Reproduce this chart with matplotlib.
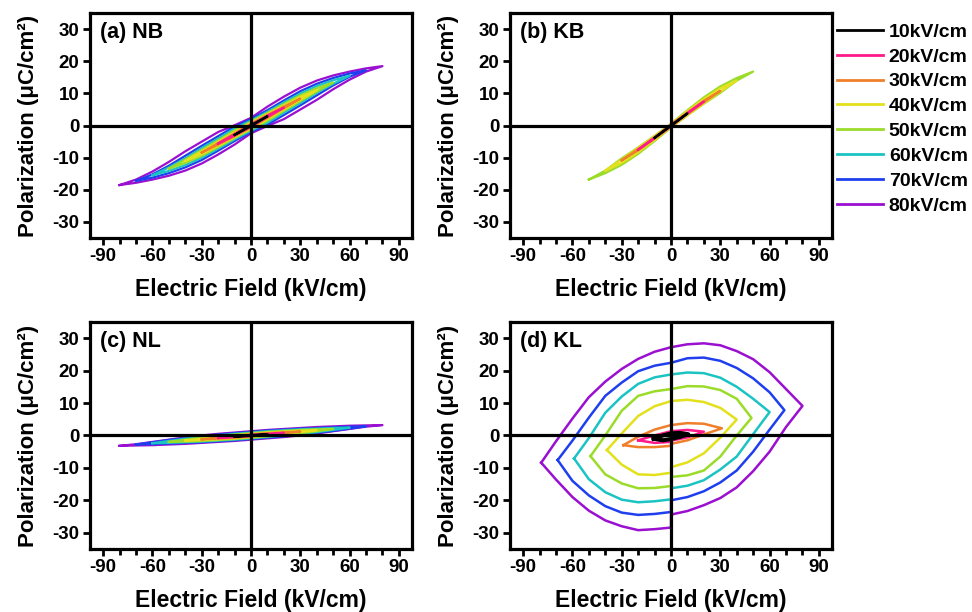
import matplotlib
matplotlib.use('Agg')
import matplotlib.pyplot as plt
from matplotlib.lines import Line2D

plt.rcParams['font.family'] = ['Liberation Sans', 'DejaVu Sans']
plt.rcParams['font.weight'] = 'bold'
plt.rcParams['axes.labelweight'] = 'bold'
plt.rcParams['axes.unicode_minus'] = False

FIELDS = [10, 20, 30, 40, 50, 60, 70, 80]
LABELS = ['10kV/cm', '20kV/cm', '30kV/cm', '40kV/cm', '50kV/cm', '60kV/cm', '70kV/cm', '80kV/cm']
COLORS = ['#000000', '#ff1a8c', '#f07f2a', '#e3e01c', '#9bdc2a', '#1cc3c3', '#1f3fef', '#9a0fd0']

# field grid (kV/cm) for panels a-c, upper branch goes -Emax -> +Emax
E10 = [-10, 0, 10]
E20 = [-20, -10, 0, 10, 20]
E30 = [-30, -20, -10, 0, 10, 20, 30]
E40 = [-40, -30, -20, -10, 0, 10, 20, 30, 40]
E50 = [-50, -40, -30, -20, -10, 0, 10, 20, 30, 40, 50]
E60 = [-60, -50, -40, -30, -20, -10, 0, 10, 20, 30, 40, 50, 60]
E70 = [-70, -60, -50, -40, -30, -20, -10, 0, 10, 20, 30, 40, 50, 60, 70]
E80 = [-80, -70, -60, -50, -40, -30, -20, -10, 0, 10, 20, 30, 40, 50, 60, 70, 80]
GRID = {10: E10, 20: E20, 30: E30, 40: E40, 50: E50, 60: E60, 70: E70, 80: E80}

# (a) NB, polarization on upper branch (E up) and lower branch (E down)
NB_UP = {
    10: [-2.9, 0.15, 2.9],
    20: [-5.6, -2.7, 0.35, 3.1, 5.6],
    30: [-8.4, -5.4, -2.4, 0.6, 3.3, 5.9, 8.4],
    40: [-11.0, -8.0, -5.0, -2.0, 0.9, 3.6, 6.3, 8.9, 11.0],
    50: [-13.4, -10.6, -7.6, -4.6, -1.5, 1.2, 3.9, 6.7, 9.4, 11.6, 13.4],
    60: [-15.5, -13.0, -10.2, -7.0, -4.0, -0.9, 1.6, 4.3, 7.2, 10.0, 12.3, 14.1, 15.5],
    70: [-17.2, -15.2, -12.5, -9.4, -6.3, -3.3, -0.3, 2.0, 4.8, 7.8, 10.7, 13.0, 14.8, 16.2, 17.2],
    80: [-18.5, -16.8, -14.3, -11.3, -8.0, -5.0, -2.0, 0.1, 2.4, 5.9, 9.0, 11.8, 14.0, 15.6, 16.8, 17.8, 18.5],
}
NB_DN = {
    10: [2.9, -0.15, -2.9],
    20: [5.6, 2.7, -0.35, -3.1, -5.6],
    30: [8.4, 5.4, 2.4, -0.6, -3.3, -5.9, -8.4],
    40: [11.0, 8.0, 5.0, 2.0, -0.9, -3.6, -6.3, -8.9, -11.0],
    50: [13.4, 10.6, 7.6, 4.6, 1.5, -1.2, -3.9, -6.7, -9.4, -11.6, -13.4],
    60: [15.5, 13.0, 10.2, 7.0, 4.0, 0.9, -1.6, -4.3, -7.2, -10.0, -12.3, -14.1, -15.5],
    70: [17.2, 15.2, 12.5, 9.4, 6.3, 3.3, 0.3, -2.0, -4.8, -7.8, -10.7, -13.0, -14.8, -16.2, -17.2],
    80: [18.5, 16.8, 14.3, 11.3, 8.0, 5.0, 2.0, -0.1, -2.4, -5.9, -9.0, -11.8, -14.0, -15.6, -16.8, -17.8, -18.5],
}

# (b) KB, only 10-50 kV/cm
KB_UP = {
    10: [-3.8, 0.1, 3.8],
    20: [-7.5, -3.8, 0.2, 3.9, 7.5],
    30: [-10.8, -7.3, -3.6, 0.4, 4.1, 7.7, 10.8],
    40: [-14.0, -10.6, -6.9, -3.3, 0.5, 4.5, 8.3, 11.6, 14.0],
    50: [-16.8, -14.0, -10.2, -6.8, -3.2, 0.6, 4.8, 8.8, 12.2, 14.8, 16.8],
}
KB_DN = {
    10: [3.8, -0.1, -3.8],
    20: [7.5, 3.8, -0.2, -3.9, -7.5],
    30: [10.8, 7.3, 3.6, -0.4, -4.1, -7.7, -10.8],
    40: [14.0, 10.6, 6.9, 3.3, -0.5, -4.5, -8.3, -11.6, -14.0],
    50: [16.8, 14.0, 10.2, 6.8, 3.2, -0.6, -4.8, -8.8, -12.2, -14.8, -16.8],
}

# (c) NL
NL_UP = {
    10: [-0.4, 0.1, 0.4],
    20: [-0.8, -0.3, 0.2, 0.5, 0.8],
    30: [-1.2, -0.7, -0.2, 0.35, 0.7, 1.0, 1.2],
    40: [-1.6, -1.0, -0.5, 0.0, 0.5, 0.9, 1.2, 1.4, 1.6],
    50: [-2.0, -1.3, -0.7, -0.2, 0.3, 0.7, 1.1, 1.4, 1.7, 1.9, 2.0],
    60: [-2.4, -1.7, -1.0, -0.5, 0.0, 0.5, 0.9, 1.3, 1.6, 1.9, 2.1, 2.3, 2.4],
    70: [-2.8, -2.1, -1.4, -0.8, -0.2, 0.3, 0.7, 1.1, 1.5, 1.8, 2.1, 2.3, 2.5, 2.7, 2.8],
    80: [-3.2, -2.7, -2.0, -1.3, -0.6, 0.0, 0.5, 0.9, 1.3, 1.7, 2.0, 2.3, 2.6, 2.8, 3.0, 3.1, 3.2],
}
NL_DN = {
    10: [0.4, -0.1, -0.4],
    20: [0.8, 0.3, -0.2, -0.5, -0.8],
    30: [1.2, 0.7, 0.2, -0.35, -0.7, -1.0, -1.2],
    40: [1.6, 1.0, 0.5, 0.0, -0.5, -0.9, -1.2, -1.4, -1.6],
    50: [2.0, 1.3, 0.7, 0.2, -0.3, -0.7, -1.1, -1.4, -1.7, -1.9, -2.0],
    60: [2.4, 1.7, 1.0, 0.5, 0.0, -0.5, -0.9, -1.3, -1.6, -1.9, -2.1, -2.3, -2.4],
    70: [2.8, 2.1, 1.4, 0.8, 0.2, -0.3, -0.7, -1.1, -1.5, -1.8, -2.1, -2.3, -2.5, -2.7, -2.8],
    80: [3.2, 2.7, 2.0, 1.3, 0.6, 0.0, -0.5, -0.9, -1.3, -1.7, -2.0, -2.3, -2.6, -2.8, -3.0, -3.1, -3.2],
}

# (d) KL, open loops, read point by point (E, P) for each branch
KL_E_UP = {
    10: [-10.5, -5, 0, 5, 10.5],
    20: [-20, -10, 0, 10, 20],
    30: [-29, -20, -10, 0, 10, 20, 31],
    40: [-39, -30, -20, -10, 0, 10, 20, 30, 40],
    50: [-49, -40, -30, -20, -10, 0, 10, 20, 30, 40, 49],
    60: [-59, -50, -40, -30, -20, -10, 0, 10, 20, 30, 40, 50, 60],
    70: [-69, -60, -50, -40, -30, -20, -10, 0, 10, 20, 30, 40, 50, 60, 69],
    80: [-79, -70, -60, -50, -40, -30, -20, -10, 0, 10, 20, 30, 40, 50, 60, 70, 80],
}
KL_P_UP = {
    10: [-1.0, 0.0, 0.6, 0.8, 0.35],
    20: [-1.5, 0.0, 1.3, 1.7, 1.15],
    30: [-3.0, -0.4, 1.8, 3.2, 3.8, 3.6, 2.2],
    40: [-4.5, 0.6, 6.0, 9.0, 10.6, 11.0, 10.3, 8.5, 4.9],
    50: [-6.4, 0.0, 7.6, 12.2, 13.6, 14.3, 15.2, 15.1, 14.0, 11.3, 5.4],
    60: [-7.1, -0.8, 7.0, 12.0, 15.9, 17.9, 18.8, 19.4, 19.2, 17.8, 15.0, 11.3, 7.2],
    70: [-7.6, -1.6, 5.5, 12.2, 16.3, 19.8, 21.5, 22.4, 23.8, 24.0, 23.0, 20.8, 17.6, 13.3, 7.8],
    80: [-8.4, -1.8, 5.2, 11.8, 16.6, 20.5, 23.6, 25.8, 27.2, 28.1, 28.4, 27.8, 26.0, 23.5, 19.5, 14.3, 9.1],
}
KL_E_DN = {
    10: [10.5, 5, 0, -5, -10.5],
    20: [20, 10, 0, 0, -10, -20],
    30: [31, 20, 10, 0, 0, -10, -20, -29],
    40: [40, 30, 20, 10, 0, 0, -10, -20, -30, -39],
    50: [49, 40, 30, 20, 10, 0, 0, -10, -20, -30, -40, -49],
    60: [60, 50, 40, 30, 20, 10, 0, 0, -10, -20, -30, -40, -50, -59],
    70: [69, 60, 50, 40, 30, 20, 10, 0, 0, -10, -20, -30, -40, -50, -60, -69],
    80: [80, 70, 60, 50, 40, 30, 20, 10, 0, 0, -10, -20, -30, -40, -50, -60, -70, -79],
}
KL_P_DN = {
    10: [0.35, -0.5, -1.1, -1.5, -1.0],
    20: [1.15, -0.6, -1.6, -2.0, -2.3, -1.5],
    30: [2.2, 0.3, -1.5, -2.6, -3.2, -3.6, -3.6, -3.0],
    40: [4.9, -0.7, -5.5, -8.3, -9.8, -11.5, -12.2, -12.0, -9.0, -4.5],
    50: [5.4, 0.0, -6.5, -10.8, -12.3, -12.8, -15.6, -16.2, -16.3, -14.8, -12.0, -6.4],
    60: [7.2, 0.4, -6.5, -10.5, -13.8, -15.5, -16.3, -19.7, -20.3, -20.6, -19.8, -17.5, -13.5, -7.1],
    70: [7.8, 1.8, -5.0, -10.8, -14.5, -17.2, -19.0, -20.0, -23.6, -24.2, -24.5, -23.8, -21.8, -18.5, -14.0, -7.6],
    80: [9.1, 2.6, -5.0, -11.0, -16.0, -19.3, -21.5, -23.3, -24.4, -28.4, -28.9, -29.2, -28.0, -26.2, -23.2, -19.0, -13.6, -8.4],
}


def style_axes(ax, title):
    ax.set_xlim(-98, 98)
    ax.set_ylim(-35, 35)
    ax.set_xticks([-90, -60, -30, 0, 30, 60, 90])
    ax.set_xticks(range(-90, 91, 10), minor=True)
    ax.set_yticks([-30, -20, -10, 0, 10, 20, 30])
    ax.tick_params(axis='both', which='both', direction='out', width=2, labelsize=13.5,
                   top=False, right=False, pad=2.5)
    ax.tick_params(axis='both', which='major', length=5)
    ax.tick_params(axis='x', which='minor', length=4)
    for s in ax.spines.values():
        s.set_linewidth(2.3)
    ax.axhline(0, color='black', lw=2.3, zorder=5)
    ax.axvline(0, color='black', lw=2.3, zorder=5)
    ax.set_xlabel('Electric Field (kV/cm)', fontsize=16.5, labelpad=9)
    ax.set_ylabel('Polarization (\u03bcC/cm\u00b2)', fontsize=16, labelpad=10)
    ax.text(0.03, 0.96, title, transform=ax.transAxes, ha='left', va='top',
            fontsize=15.5, fontweight='bold', zorder=6)


def draw_grid_loops(ax, up, dn):
    for f in reversed(FIELDS):
        if f not in up:
            continue
        e = GRID[f]
        c = COLORS[FIELDS.index(f)]
        ax.plot(e + e[::-1], up[f] + dn[f], color=c, lw=1.6, zorder=3)


def draw_kl_loops(ax):
    for f in reversed(FIELDS):
        c = COLORS[FIELDS.index(f)]
        lw = 3.0 if f == 10 else 1.8
        ax.plot(KL_E_UP[f] + KL_E_DN[f], KL_P_UP[f] + KL_P_DN[f], color=c, lw=lw, zorder=3)


fig = plt.figure(figsize=(9.72, 6.12), dpi=100)
ax_a = fig.add_axes([0.0926, 0.611, 0.3313, 0.3676])
ax_b = fig.add_axes([0.5247, 0.611, 0.3313, 0.3676])
ax_c = fig.add_axes([0.0926, 0.103, 0.3313, 0.371])
ax_d = fig.add_axes([0.5247, 0.103, 0.3313, 0.371])

draw_grid_loops(ax_a, NB_UP, NB_DN)
draw_grid_loops(ax_b, KB_UP, KB_DN)
draw_grid_loops(ax_c, NL_UP, NL_DN)
draw_kl_loops(ax_d)

style_axes(ax_a, '(a) NB')
style_axes(ax_b, '(b) KB')
style_axes(ax_c, '(c) NL')
style_axes(ax_d, '(d) KL')

handles = [Line2D([0], [0], color=c, lw=2) for c in COLORS]
fig.legend(handles, LABELS, loc='upper left', bbox_to_anchor=(0.861, 0.962),
           frameon=False, fontsize=14, handlelength=2.37, handletextpad=0.3,
           labelspacing=0.37, borderpad=0, borderaxespad=0)

fig.savefig('out.png', dpi=100)
print('Saved out.png')
